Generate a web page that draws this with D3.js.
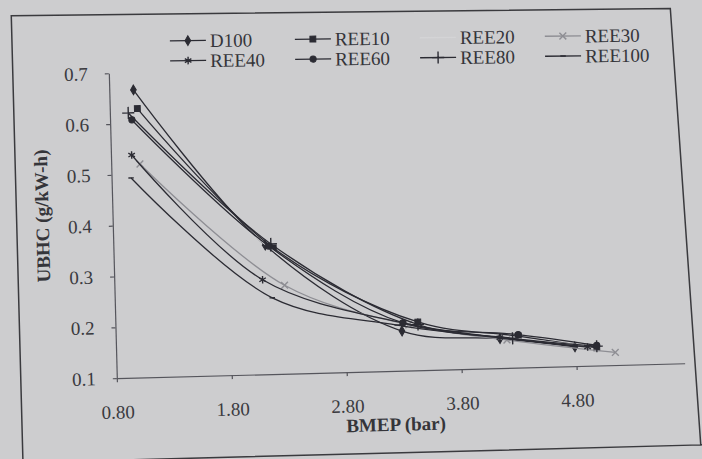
<!DOCTYPE html>
<html>
<head>
<meta charset="utf-8">
<script src="https://cdn.jsdelivr.net/npm/d3@7"></script>
<style>
  html, body { margin: 0; padding: 0; background: #cdcdcf; }
  svg { display: block; }
  text { font-family: "Liberation Serif", "Times New Roman", serif; fill: #35353a; }
  .axis path, .axis line { stroke: #55555c; stroke-width: 1.2; }
  .axis text { font-size: 19px; fill: #3a3a40; }
</style>
</head>
<body>
<div id="chart"></div>
<script>
const seriesNames = ["D100", "REE10", "REE20", "REE30", "REE40", "REE60", "REE80", "REE100"];
const xTicks = [0.8, 1.8, 2.8, 3.8, 4.8];
const yTicks = [0.1, 0.2, 0.3, 0.4, 0.5, 0.6, 0.7];

// BMEP (bar) per series, same order as seriesNames
const bmep = [
  [1.01, 2.12, 3.29, 4.14, 4.79],
  [1.04, 2.19, 3.43, 4.30, 4.98],
  [1.00, 2.15, 3.35, 4.20, 4.90],
  [1.05, 2.28, 3.35, 4.20, 5.14],
  [0.98, 2.09, 3.30, 4.14, 4.90],
  [0.99, 2.15, 3.30, 4.30, 4.98],
  [0.96, 2.17, 3.43, 4.25, 4.98],
  [0.97, 2.17, 3.25, 4.20, 4.79]
];

// UBHC (g/kW-h) per series
const ubhc = [
  [0.666, 0.354, 0.178, 0.158, 0.138],
  [0.629, 0.348, 0.195, 0.162, 0.135],
  [0.610, 0.350, 0.190, 0.160, 0.140],
  [0.520, 0.274, 0.190, 0.155, 0.125],
  [0.538, 0.286, 0.194, 0.160, 0.137],
  [0.607, 0.352, 0.194, 0.165, 0.140],
  [0.621, 0.356, 0.190, 0.158, 0.138],
  [0.493, 0.250, 0.190, 0.158, 0.140]
];

const W = 702, H = 459;
const dark = "#2b2b33";

const dash = {
  draw(ctx, size) {
    const w = Math.sqrt(size) / 2;
    ctx.moveTo(-w, 0);
    ctx.lineTo(w, 0);
  }
};

const styles = [
  { stroke: dark, symbol: d3.symbolDiamond, size: 28, fill: true },
  { stroke: dark, symbol: d3.symbolSquare, size: 34, fill: true },
  { stroke: "#dadadc", symbol: null },
  { stroke: "#8e8e94", symbol: d3.symbolTimes, size: 32, fill: false },
  { stroke: dark, symbol: d3.symbolAsterisk, size: 40, fill: false },
  { stroke: dark, symbol: d3.symbolCircle, size: 30, fill: true },
  { stroke: dark, symbol: d3.symbolPlus, size: 50, fill: false },
  { stroke: dark, symbol: dash, size: 30, fill: false }
];

const svg = d3.select("#chart")
  .append("svg")
  .attr("width", W)
  .attr("height", H);

// the original is a photo of a printed page, slightly rotated
const page = svg.append("g")
  .attr("transform", "rotate(-1.5, 350, 230)");

page.append("path")
  .attr("d", "M17,7 L676,17 L695,454 L17,454 Z M695,454 L720,454")
  .attr("fill", "none")
  .attr("stroke", "#3a3a3e")
  .attr("stroke-width", 1.5);

const x = d3.scaleLinear()
  .domain([0.8, 5.74])
  .range([113, 681]);

const y = d3.scaleLinear()
  .domain([0.1, 0.7])
  .range([372, 67]);

const xAxisGroup = page.append("g")
  .attr("class", "axis x-axis")
  .attr("transform", `translate(0,${y(0.1)})`)
  .call(d3.axisBottom(x).tickValues(xTicks).tickSize(4).tickSizeOuter(0).tickFormat(d3.format(".2f")));

xAxisGroup.selectAll("text")
  .attr("y", 27)
  .attr("dy", "0.71em");

const yAxisGroup = page.append("g")
  .attr("class", "axis y-axis")
  .attr("transform", `translate(${x(0.8)},0)`)
  .call(d3.axisLeft(y).tickValues(yTicks).tickSize(4).tickSizeOuter(0).tickPadding(17).tickFormat(d3.format(".1f")));

page.append("text")
  .attr("x", 391)
  .attr("y", 432)
  .attr("text-anchor", "middle")
  .attr("font-size", 19)
  .attr("font-weight", "bold")
  .text("BMEP (bar)");

page.append("text")
  .attr("transform", "translate(49,208) rotate(-90)")
  .attr("text-anchor", "middle")
  .attr("font-size", 19)
  .attr("font-weight", "bold")
  .text("UBHC (g/kW-h)");

const line = d3.line()
  .x(d => x(d[0]))
  .y(d => y(d[1]))
  .curve(d3.curveCatmullRom.alpha(0.5));

const plot = page.append("g");

seriesNames.forEach((name, i) => {
  const pts = bmep[i].map((b, j) => [b, ubhc[i][j]]);
  const st = styles[i];

  plot.append("path")
    .datum(pts)
    .attr("fill", "none")
    .attr("stroke", st.stroke)
    .attr("stroke-width", 1.3)
    .attr("d", line);

  if (st.symbol) {
    plot.selectAll(null)
      .data(pts)
      .join("path")
      .attr("transform", d => `translate(${x(d[0])},${y(d[1])})`)
      .attr("d", d3.symbol(st.symbol, st.size))
      .attr("fill", st.fill ? st.stroke : "none")
      .attr("stroke", st.stroke)
      .attr("stroke-width", st.fill ? 1 : 1.4);
  }
});

// legend, two rows of four; its own slight tilt
const legendX = [170, 295, 420, 545];
const legendY = [38, 58];

const legend = svg.append("g")
  .attr("transform", "rotate(-0.7, 400, 50)");

seriesNames.forEach((name, i) => {
  const st = styles[i];
  const lx = legendX[i % 4];
  const ly = legendY[Math.floor(i / 4)];
  const item = legend.append("g").attr("transform", `translate(${lx},${ly})`);

  item.append("line")
    .attr("x1", 0)
    .attr("x2", 36)
    .attr("stroke", i === 2 ? "#d4d4d6" : st.stroke)
    .attr("stroke-width", 1.3);

  if (st.symbol) {
    item.append("path")
      .attr("transform", "translate(18,0)")
      .attr("d", d3.symbol(st.symbol, st.size))
      .attr("fill", st.fill ? st.stroke : "none")
      .attr("stroke", st.stroke)
      .attr("stroke-width", st.fill ? 1 : 1.4);
  }

  item.append("text")
    .attr("x", 40)
    .attr("dy", "0.35em")
    .attr("font-size", 19)
    .text(name);
});
</script>
</body>
</html>
